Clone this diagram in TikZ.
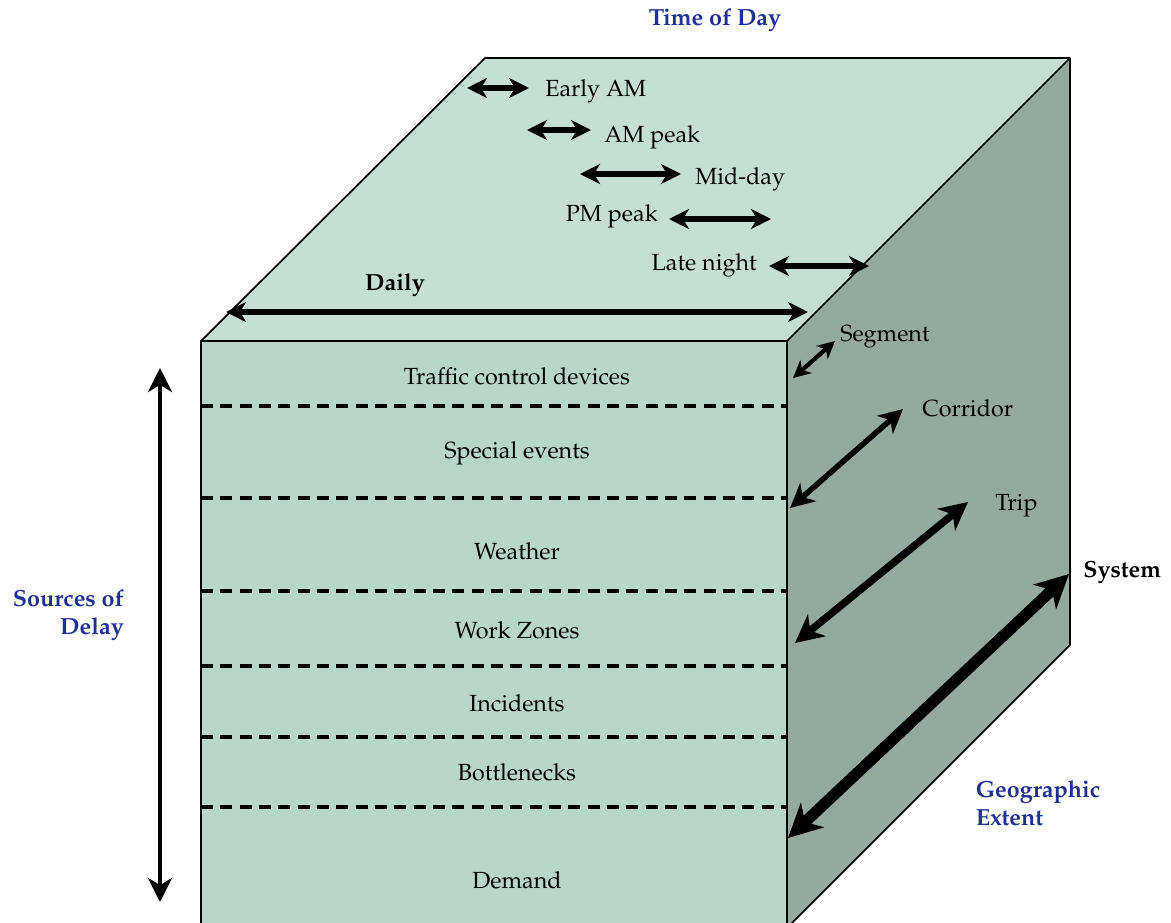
\documentclass[tikz,border=0pt]{standalone}
\usepackage[T1]{fontenc}
\renewcommand{\rmdefault}{ppl}
\usepackage{tikz}
\usetikzlibrary{arrows.meta,positioning}

\definecolor{topface}{RGB}{198,223,213}
\definecolor{frontface}{RGB}{185,214,203}
\definecolor{sideface}{RGB}{149,170,159}
\definecolor{titleblue}{RGB}{32,48,145}

\begin{document}
\begin{tikzpicture}[x=0.75pt,y=-0.75pt,
    lbl/.style={font=\fontsize{17.5}{21}\selectfont, inner sep=0pt},
    bold lbl/.style={lbl, font=\fontsize{17.5}{21}\selectfont\bfseries},
    title/.style={font=\fontsize{17.5}{21}\selectfont\bfseries, text=titleblue, inner sep=0pt, align=left},
    edge/.style={line width=1.3pt, line join=round},
    layer/.style={line width=2.5pt, dash pattern=on 9pt off 5.5pt},
    dbl/.style 2 args={{Stealth[length=#2,width=#2,inset=0.3*#2]}-{Stealth[length=#2,width=#2,inset=0.3*#2]}, line width=#1},
    ]
  \useasboundingbox (0,0) rectangle (1171,922);

  % the cube
  \fill[topface] (201,341) -- (485,58) -- (1070,58) -- (787,341) -- cycle;
  \fill[sideface] (787,341) -- (1070,58) -- (1070,645) -- (787,928) -- cycle;
  \fill[frontface] (201,341) rectangle (787,930);
  \draw[edge] (201,930) -- (201,341) -- (485,58) -- (1070,58) -- (1070,645) -- (787,928);
  \draw[edge] (201,341) -- (787,341) -- (1070,58);
  \draw[edge] (787,341) -- (787,930);

  % sources of delay
  \foreach \y in {406,498,591,666,737,807}
    \draw[layer] (201,\y) -- (787,\y);
  \node[lbl] (tcd)  at (517,376) {Traffic control devices};
  \node[lbl] (spev) at (517,453) {Special events};
  \node[lbl] (wthr) at (517,551) {Weather};
  \node[lbl] (wkzn) at (517,630) {Work Zones};
  \node[lbl] (inci) at (517,703) {Incidents};
  \node[lbl] (btnk) at (517,772) {Bottlenecks};
  \node[lbl] (dmnd) at (517,880) {Demand};

  \coordinate (srcT) at (160,368);
  \coordinate (srcB) at (160,902);
  \draw[dbl={3.2pt}{18pt}] (srcT) -- (srcB);
  \node[title, align=right, anchor=east] (src) at (124,615) {Sources of\\Delay};

  % time of day
  \node[title] (tod) at (715,20) {Time of Day};
  \node[lbl, anchor=west] (eam)  at (545,91)  {Early AM};
  \node[lbl, anchor=west] (amp)  at (604,137) {AM peak};
  \node[lbl, anchor=west] (mid)  at (695,179) {Mid-day};
  \node[lbl, anchor=east] (pmp)  at (658,216) {PM peak};
  \node[lbl, anchor=east] (late) at (757,265) {Late night};
  \node[bold lbl] (daily) at (395,285) {Daily};

  \coordinate (eamL) at (467,88);   \coordinate (eamR) at (529,88);
  \coordinate (ampL) at (527,130);  \coordinate (ampR) at (591,130);
  \coordinate (midL) at (580,174);  \coordinate (midR) at (681,174);
  \coordinate (pmpL) at (669,219);  \coordinate (pmpR) at (771,219);
  \coordinate (latL) at (769,266);  \coordinate (latR) at (869,266);
  \coordinate (dlyL) at (226,312);  \coordinate (dlyR) at (808,312);
  \draw[dbl={4pt}{15pt}] (eamL) -- (eamR);
  \draw[dbl={4pt}{15pt}] (ampL) -- (ampR);
  \draw[dbl={4pt}{15pt}] (midL) -- (midR);
  \draw[dbl={4pt}{15pt}] (pmpL) -- (pmpR);
  \draw[dbl={4pt}{15pt}] (latL) -- (latR);
  \draw[dbl={4.6pt}{15pt}] (dlyL) -- (dlyR);

  % geographic extent
  \node[lbl, anchor=west] (seg)  at (840,337) {Segment};
  \node[lbl, anchor=west] (corr) at (922,408) {Corridor};
  \node[lbl, anchor=west] (trip) at (995,506) {Trip};
  \node[bold lbl, anchor=west] (syst) at (1083,572) {System};
  \node[title] (geo) at (1038,803) {Geographic\\Extent};

  \coordinate (segA) at (793,378);  \coordinate (segB) at (835,341);
  \coordinate (corA) at (790,508);  \coordinate (corB) at (903,409);
  \coordinate (trpA) at (795,643);  \coordinate (trpB) at (968,502);
  \coordinate (sysA) at (788,838);  \coordinate (sysB) at (1069,574);
  \draw[dbl={3.2pt}{13pt}] (segA) -- (segB);
  \draw[dbl={4.2pt}{18pt}] (corA) -- (corB);
  \draw[dbl={5.6pt}{21pt}] (trpA) -- (trpB);
  \draw[dbl={8.5pt}{25pt}] (sysA) -- (sysB);
\end{tikzpicture}
\end{document}
